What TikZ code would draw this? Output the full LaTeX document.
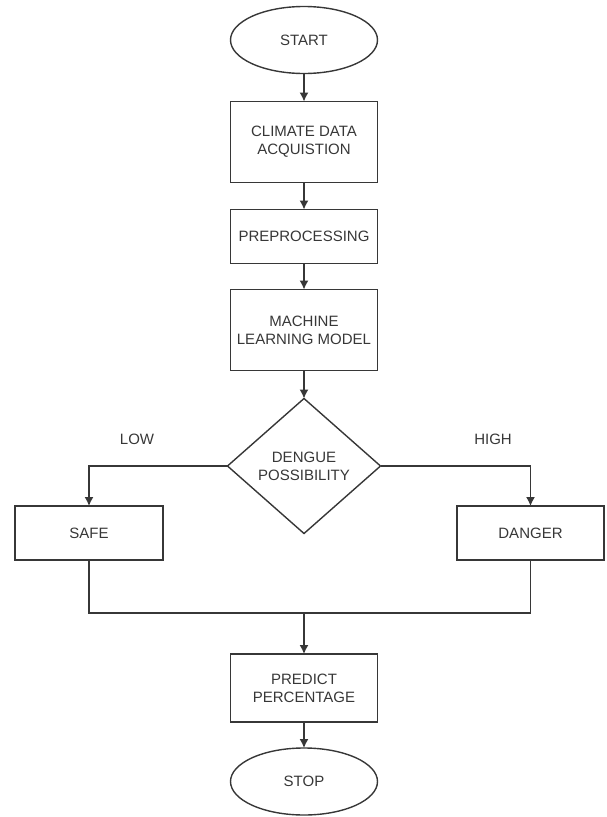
\documentclass[tikz,border=0pt]{standalone}
\usepackage{fontspec}
\setmainfont{Liberation Sans}
\usetikzlibrary{positioning}
\usetikzlibrary{shapes}
\usetikzlibrary{arrows.meta}

\definecolor{linea}{RGB}{55,55,55}
\definecolor{scritta}{RGB}{55,55,55}

\begin{document}
\begin{tikzpicture}[align=center,node distance=27pt,line width=1.4pt,draw=linea,
every node/.style={font=\fontsize{15}{18}\selectfont,text=scritta,outer sep=0pt},
freccia/.style={-{Latex[length=9pt,width=9pt]},linea},
ovale/.style={draw=linea,ellipse,minimum width=147pt,minimum height=67pt,inner sep=0pt},
blocco/.style={draw=linea,minimum width=147pt,inner sep=0pt},
condiz/.style={draw=linea,diamond,aspect=1.13,minimum width=153pt,minimum height=135pt,inner sep=0pt},
etich/.style={inner sep=0pt}
]
\useasboundingbox (0,0) rectangle (606pt,-817pt);
\node[ovale](xa) at (304pt,-40pt){START};
%--
\node[blocco,minimum height=81pt,below = 28pt of xa](a){CLIMATE DATA\\ACQUISTION};
\draw [freccia] (xa) -- (a);
\node[blocco,minimum height=54pt,below = of a](b){PREPROCESSING};
\draw [freccia] (a) -- (b);
\node[blocco,minimum height=81pt,below = 26pt of b](c){MACHINE\\LEARNING MODEL};
\draw [freccia] (b) -- (c);
%--
\node[condiz,below = 28pt of c](d){DENGUE\\POSSIBILITY};
\draw [freccia] (c) -- (d);
\node[etich](low) at (137pt,-439pt){LOW};
\node[etich](high) at (493pt,-439pt){HIGH};
%----
\node[blocco,minimum width=148pt,minimum height=54pt](safe) at (89pt,-533pt){SAFE};
\draw [freccia] (d.west) -| (safe);
\node[blocco,minimum width=147pt,minimum height=54pt](danger) at (530.5pt,-533pt){DANGER};
\draw [freccia] (d.east) -| (danger);
%----
\coordinate (m) at (304pt,-613pt);
\draw [linea] (safe) |- (m);
\draw [linea] (danger) |- (m);
\node[blocco,minimum height=68pt](p) at (304pt,-688pt){PREDICT\\PERCENTAGE};
\draw [freccia] (m) -- (p);
%--
\node[ovale,below = 26pt of p](xb){STOP};
\draw [freccia] (p) -- (xb);
\end{tikzpicture}
\end{document}
